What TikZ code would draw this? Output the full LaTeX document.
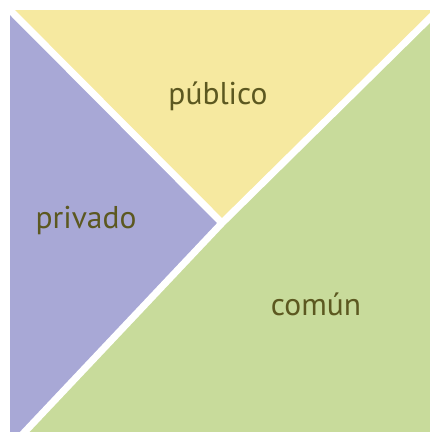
\documentclass[tikz,border=0pt]{standalone}
\usepackage{fontspec}
\setmainfont{PT Sans}
\usetikzlibrary{calc}
\definecolor{purp}{RGB}{168,168,214}
\definecolor{yel}{RGB}{246,233,160}
\definecolor{grn}{RGB}{200,219,155}
\definecolor{txt}{RGB}{92,88,32}
\begin{document}
\begin{tikzpicture}[x=1pt,y=-1pt,
  lbl/.style={inner sep=0pt,anchor=base,text=txt,font=\fontsize{31.5}{36}\selectfont},
  gap/.style={draw=white,line width=7pt}]
\useasboundingbox (0,0) rectangle (430,432);
\coordinate (TL) at (10,10);
\coordinate (BL) at (10,432);
\coordinate (TR) at (430,10);
\coordinate (BR) at (430,432);
\coordinate (A) at (25,432);
\coordinate (J) at (222,223);
\coordinate (B) at (430,18);
\coordinate (C) at (4,4);
\coordinate (A2) at (19,438);
\coordinate (B2) at (436,12);
\fill[purp] (TL) -- (BL) -- (A) -- (J) -- cycle;
\fill[yel] (TL) -- (TR) -- (B) -- (J) -- cycle;
\fill[grn] (J) -- (B) -- (BR) -- (A) -- cycle;
\begin{scope}
\clip (0,0) rectangle (430,432);
\draw[gap] (C) -- (J);
\draw[gap] (A2) -- (J) -- (B2);
\end{scope}
\node[lbl] (pub) at (218,104) {público};
\node[lbl] (priv) at (86,228) {privado};
\node[lbl] (com) at (316,315) {común};
\end{tikzpicture}
\end{document}
